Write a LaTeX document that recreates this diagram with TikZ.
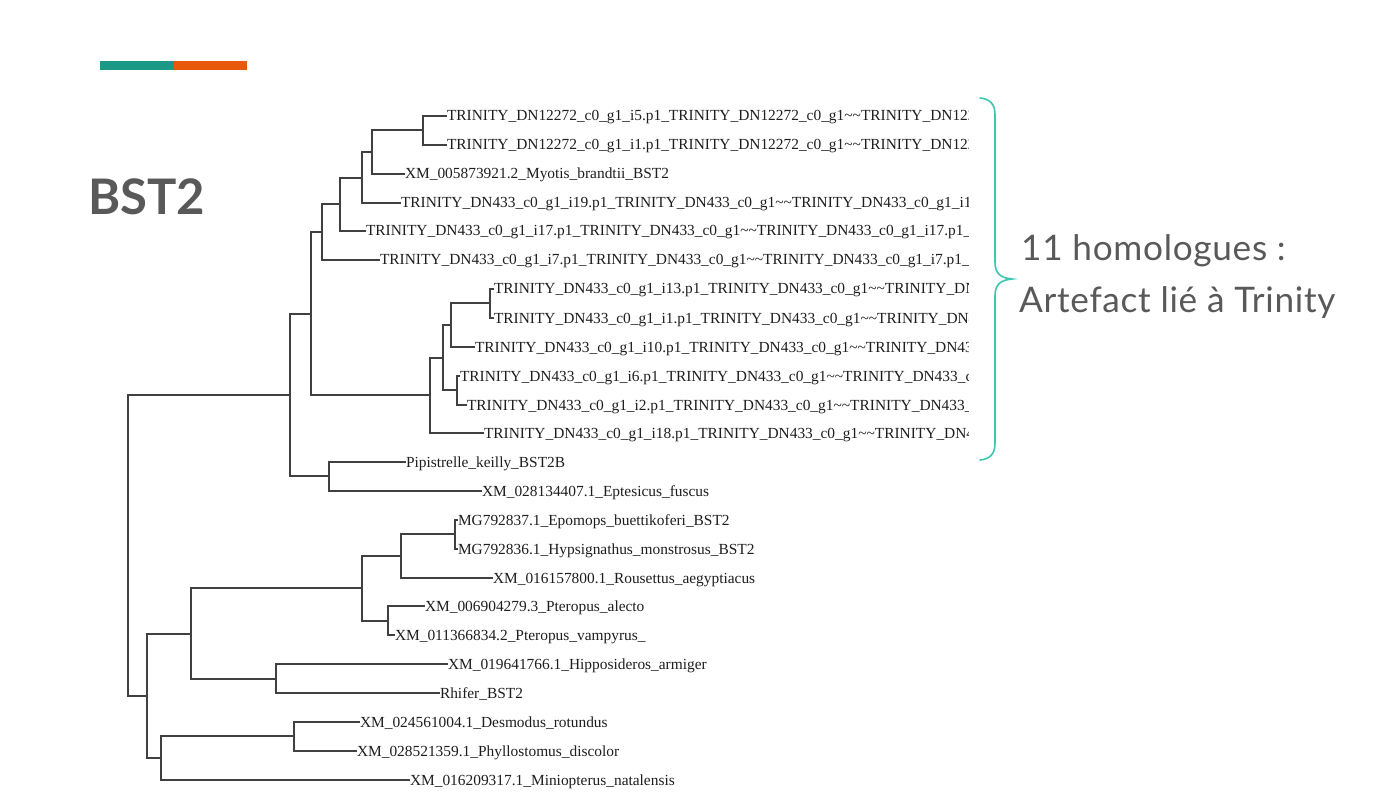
\documentclass[tikz,border=0pt]{standalone}
\usepackage{fontspec}
\setmainfont{Liberation Serif}
\newfontfamily\lato{Lato}
\newfontfamily\latows[LetterSpace=2]{Lato}
\definecolor{teal1}{HTML}{1B9987}
\definecolor{orange1}{HTML}{E85A0A}
\definecolor{brace1}{HTML}{3CC7B1}
\definecolor{title1}{HTML}{595959}
\definecolor{branch1}{HTML}{404040}
\definecolor{label1}{HTML}{1E1E1E}
\newcommand{\tl}{\textasciitilde\textasciitilde}
\begin{document}
\begin{tikzpicture}[x=1pt,y=-1pt,
  leaf/.style={anchor=west,inner xsep=1pt,inner ysep=0pt,outer sep=0pt,text height=13pt,text depth=3pt,font=\fontsize{15.4}{15.4}\selectfont,text=label1},
  br/.style={draw=branch1,line width=1.9pt,line cap=rect},
  ttl/.style={font=\lato\bfseries\fontsize{49}{49}\selectfont,text=title1,anchor=base west,inner sep=0pt},
  note/.style={font=\latows\fontsize{35.2}{35.2}\selectfont,text=title1,anchor=base west,inner sep=0pt}]
\useasboundingbox (0,0) rectangle (1378,810);
\fill[white] (0,0) rectangle (1378,810);
% top bars
\fill[teal1] (100,61) rectangle (174,70);
\fill[orange1] (174,61) rectangle (247,70);
% title
\node[ttl] (title) at (88,215) {BST2};
% brace
\draw[brace1,line width=1.6pt,line cap=round]
  (980,98) .. controls (990,99) and (995,104) .. (995,115) -- (995,262)
  .. controls (995,273) and (1000,278) .. (1012,279)
  .. controls (1000,280) and (995,285) .. (995,296) -- (995,443)
  .. controls (995,454) and (990,459) .. (980,460);
\node[note] (n1) at (1021,261) {11 homologues :};
\node[note] (n2) at (1019,312) {Artefact lié à Trinity};
% tree
\begin{scope}[shift={(-0.5,-0.5)}]
\clip (0,0) rectangle (968.5,810);
% internal nodes
\coordinate (A) at (423.5,130.5);
\coordinate (B) at (372.5,152.5);
\coordinate (C) at (362.5,178.5);
\coordinate (D) at (340.5,204.5);
\coordinate (E) at (322.5,232.5);
\coordinate (G7) at (490.5,303.5);
\coordinate (G) at (451.5,325.5);
\coordinate (H) at (457.5,390.5);
\coordinate (I) at (443.5,358.5);
\coordinate (J) at (430.5,395.5);
\coordinate (F) at (311.5,314.5);
\coordinate (L) at (329.5,476.5);
\coordinate (K) at (290.5,395.5);
\coordinate (M) at (455.5,534.5);
\coordinate (N) at (401.5,556.5);
\coordinate (P) at (388.5,621.5);
\coordinate (O) at (362.5,588.5);
\coordinate (R) at (276.5,679.5);
\coordinate (Q) at (191.5,634.5);
\coordinate (U) at (294.5,736.5);
\coordinate (T) at (161.5,758.5);
\coordinate (S) at (147.5,696.5);
\coordinate (root) at (128.5,546);
% leaves
\node[leaf] (l1) at (446.5,116.5) {TRINITY\_DN12272\_c0\_g1\_i5.p1\_TRINITY\_DN12272\_c0\_g1\tl TRINITY\_DN1227};
\node[leaf] (l2) at (446.5,145.5) {TRINITY\_DN12272\_c0\_g1\_i1.p1\_TRINITY\_DN12272\_c0\_g1\tl TRINITY\_DN1227};
\node[leaf] (l3) at (404.5,174.5) {XM\_005873921.2\_Myotis\_brandtii\_BST2};
\node[leaf] (l4) at (400.5,203.5) {TRINITY\_DN433\_c0\_g1\_i19.p1\_TRINITY\_DN433\_c0\_g1\tl TRINITY\_DN433\_c0\_g1\_i19.};
\node[leaf] (l5) at (365.5,231.5) {TRINITY\_DN433\_c0\_g1\_i17.p1\_TRINITY\_DN433\_c0\_g1\tl TRINITY\_DN433\_c0\_g1\_i17.p1\_\_};
\node[leaf] (l6) at (379.5,260.5) {TRINITY\_DN433\_c0\_g1\_i7.p1\_TRINITY\_DN433\_c0\_g1\tl TRINITY\_DN433\_c0\_g1\_i7.p1\_\_O};
\node[leaf] (l7) at (493.5,289.5) {TRINITY\_DN433\_c0\_g1\_i13.p1\_TRINITY\_DN433\_c0\_g1\tl TRINITY\_DN4};
\node[leaf] (l8) at (493.5,318.5) {TRINITY\_DN433\_c0\_g1\_i1.p1\_TRINITY\_DN433\_c0\_g1\tl TRINITY\_DN43};
\node[leaf] (l9) at (474.5,347.5) {TRINITY\_DN433\_c0\_g1\_i10.p1\_TRINITY\_DN433\_c0\_g1\tl TRINITY\_DN433};
\node[leaf] (l10) at (459.5,376.5) {TRINITY\_DN433\_c0\_g1\_i6.p1\_TRINITY\_DN433\_c0\_g1\tl TRINITY\_DN433\_c0};
\node[leaf] (l11) at (466.5,405.5) {TRINITY\_DN433\_c0\_g1\_i2.p1\_TRINITY\_DN433\_c0\_g1\tl TRINITY\_DN433\_c0};
\node[leaf] (l12) at (483.5,433.5) {TRINITY\_DN433\_c0\_g1\_i18.p1\_TRINITY\_DN433\_c0\_g1\tl TRINITY\_DN43};
\node[leaf] (l13) at (405.5,462.5) {Pipistrelle\_keilly\_BST2B};
\node[leaf] (l14) at (481.5,491.5) {XM\_028134407.1\_Eptesicus\_fuscus};
\node[leaf] (l15) at (457.5,520.5) {MG792837.1\_Epomops\_buettikoferi\_BST2};
\node[leaf] (l16) at (457.5,549.5) {MG792836.1\_Hypsignathus\_monstrosus\_BST2};
\node[leaf] (l17) at (492.5,578.5) {XM\_016157800.1\_Rousettus\_aegyptiacus};
\node[leaf] (l18) at (424.5,606.5) {XM\_006904279.3\_Pteropus\_alecto};
\node[leaf] (l19) at (394.5,635.5) {XM\_011366834.2\_Pteropus\_vampyrus\_};
\node[leaf] (l20) at (447.5,664.5) {XM\_019641766.1\_Hipposideros\_armiger};
\node[leaf] (l21) at (439.5,693.5) {Rhifer\_BST2};
\node[leaf] (l22) at (359.5,722.5) {XM\_024561004.1\_Desmodus\_rotundus};
\node[leaf] (l23) at (356.5,751.5) {XM\_028521359.1\_Phyllostomus\_discolor};
\node[leaf] (l24) at (409.5,780.5) {XM\_016209317.1\_Miniopterus\_natalensis};
% edges
\draw[br] (A) |- (l1.west); \draw[br] (A) |- (l2.west);
\draw[br] (B) |- (A); \draw[br] (B) |- (l3.west);
\draw[br] (C) |- (B); \draw[br] (C) |- (l4.west);
\draw[br] (D) |- (C); \draw[br] (D) |- (l5.west);
\draw[br] (E) |- (D); \draw[br] (E) |- (l6.west);
\draw[br] (G7) |- (l7.west); \draw[br] (G7) |- (l8.west);
\draw[br] (G) |- (G7); \draw[br] (G) |- (l9.west);
\draw[br] (H) |- (l10.west); \draw[br] (H) |- (l11.west);
\draw[br] (I) |- (G); \draw[br] (I) |- (H);
\draw[br] (J) |- (I); \draw[br] (J) |- (l12.west);
\draw[br] (F) |- (E); \draw[br] (F) |- (J);
\draw[br] (L) |- (l13.west); \draw[br] (L) |- (l14.west);
\draw[br] (K) |- (F); \draw[br] (K) |- (L);
\draw[br] (M) |- (l15.west); \draw[br] (M) |- (l16.west);
\draw[br] (N) |- (M); \draw[br] (N) |- (l17.west);
\draw[br] (P) |- (l18.west); \draw[br] (P) |- (l19.west);
\draw[br] (O) |- (N); \draw[br] (O) |- (P);
\draw[br] (R) |- (l20.west); \draw[br] (R) |- (l21.west);
\draw[br] (Q) |- (O); \draw[br] (Q) |- (R);
\draw[br] (U) |- (l22.west); \draw[br] (U) |- (l23.west);
\draw[br] (T) |- (U); \draw[br] (T) |- (l24.west);
\draw[br] (S) |- (Q); \draw[br] (S) |- (T);
\draw[br] (root) |- (K); \draw[br] (root) |- (S);
\end{scope}
\end{tikzpicture}
\end{document}
